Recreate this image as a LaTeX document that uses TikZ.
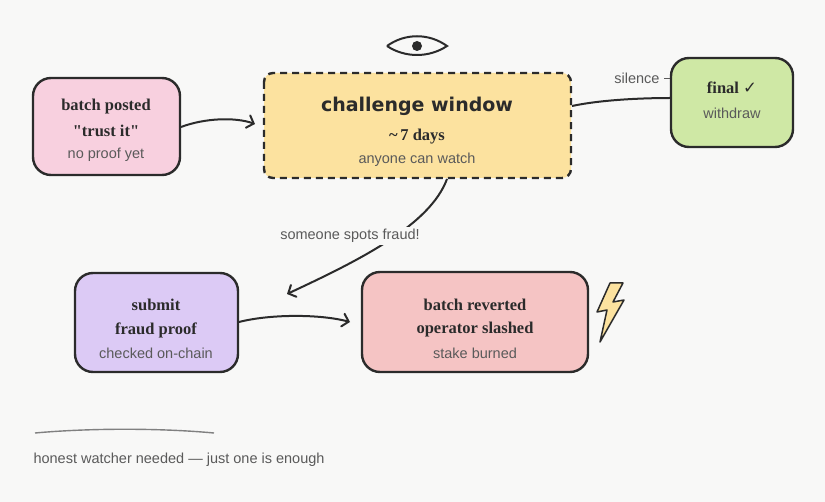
\documentclass[tikz,border=0pt]{standalone}
\usepackage{fontspec}
\setmainfont{Liberation Serif}
\newfontfamily\hand{Liberation Sans}
\newfontfamily\comic{DejaVu Sans}
\usetikzlibrary{arrows.meta}
\definecolor{ink}{HTML}{2B2B2B}
\definecolor{sub}{HTML}{5A5A5A}
\definecolor{cpink}{HTML}{F8D0DF}
\definecolor{cyel}{HTML}{FCE29F}
\definecolor{cgreen}{HTML}{CFE8A5}
\definecolor{clav}{HTML}{DCCAF5}
\definecolor{cred}{HTML}{F5C4C4}
\definecolor{bg}{HTML}{F8F8F7}
\begin{document}
\begin{tikzpicture}[x=1pt,y=-1pt,
  box/.style={draw=ink,line width=2.4pt,rounded corners=18pt},
  ttl/.style={font=\bfseries\fontsize{16.5}{19}\selectfont,text=ink,align=center},
  st/.style={font=\hand\fontsize{14.5}{17}\selectfont,text=sub},
  con/.style={draw=ink,line width=2pt},
  arr/.style={con,-{Straight Barb[length=6pt,width=13pt,line cap=round]}}]
\fill[bg] (0,0) rectangle (825,502);
\useasboundingbox (0,0) rectangle (825,502);
% boxes
\draw[box,fill=cpink] (33,78) rectangle (180,175);
\node (bp) at (106,126) {};
\node[ttl] at (106,107) {batch posted};
\node[ttl] at (106,131) {\textquotedbl trust it\textquotedbl};
\node[st] at (106,155) {no proof yet};
\draw[box,fill=cyel,dash pattern=on 7pt off 5pt,rounded corners=9pt] (264,73) rectangle (571,178);
\node (cw) at (417,125) {};
\node[font=\comic\bfseries\fontsize{19}{21}\selectfont,text=ink] at (417,106) {challenge window};
\node[ttl] at (417,137) {\textasciitilde\,7 days};
\node[st] at (417,160) {anyone can watch};
\draw[box,fill=cgreen] (671,58) rectangle (793,147);
\node (fi) at (732,100) {};
\node[ttl] at (732,88) {final {\comic ✓}};
\node[st] at (732,113) {withdraw};
\draw[box,fill=clav] (75,273) rectangle (238,372);
\node (su) at (156,322) {};
\node[ttl] at (156,305) {submit};
\node[ttl] at (156,330) {fraud proof};
\node[st] at (156,353) {checked on-chain};
\draw[box,fill=cred] (362,272) rectangle (588,372);
\node (br) at (475,322) {};
\node[ttl] at (475,305) {batch reverted};
\node[ttl] at (475,330) {operator slashed};
\node[st] at (475,353) {stake burned};
% eye
\draw[ink,line width=2pt] (387,46) .. controls (405,33) and (429,33) .. (447,46) .. controls (429,58) and (405,58) .. (387,46);
\fill[ink] (417,46) circle (5pt);
% lightning
\draw[ink,line width=1.5pt,fill=cyel,line join=round] (610,283) -- (623,283) -- (613,302) -- (624,300) -- (600,342) -- (607,310) -- (597,312) -- cycle;
% connectors
\coordinate (a1) at (181,127); \coordinate (a2) at (255,124);
\draw[arr] (a1) .. controls (205,118) and (235,117) .. (a2);
\coordinate (c1) at (447,179); \coordinate (c2) at (287,294);
\draw[arr] (c1) .. controls (430,225) and (360,260) .. (c2);
\node[st,fill=bg,inner sep=2pt] at (350,236) {someone spots fraud!};
\coordinate (s1) at (239,322); \coordinate (s2) at (350,322);
\draw[arr] (s1) .. controls (270,314) and (320,314) .. (s2);
\coordinate (f1) at (572,106); \coordinate (f2) at (671,98);
\draw[con] (f1) .. controls (600,100) and (640,98) .. (f2);
\node[st,anchor=east] at (663,78) {silence};
\draw[sub,line width=1pt] (664,79) -- (670,79);
% footer
\coordinate (l1) at (35,433); \coordinate (l2) at (214,433);
\draw[gray,line width=1.4pt] (l1) .. controls (90,428) and (160,428) .. (l2);
\node[st,anchor=west] at (30,460) {honest watcher needed — just one is enough};
\end{tikzpicture}
\end{document}
